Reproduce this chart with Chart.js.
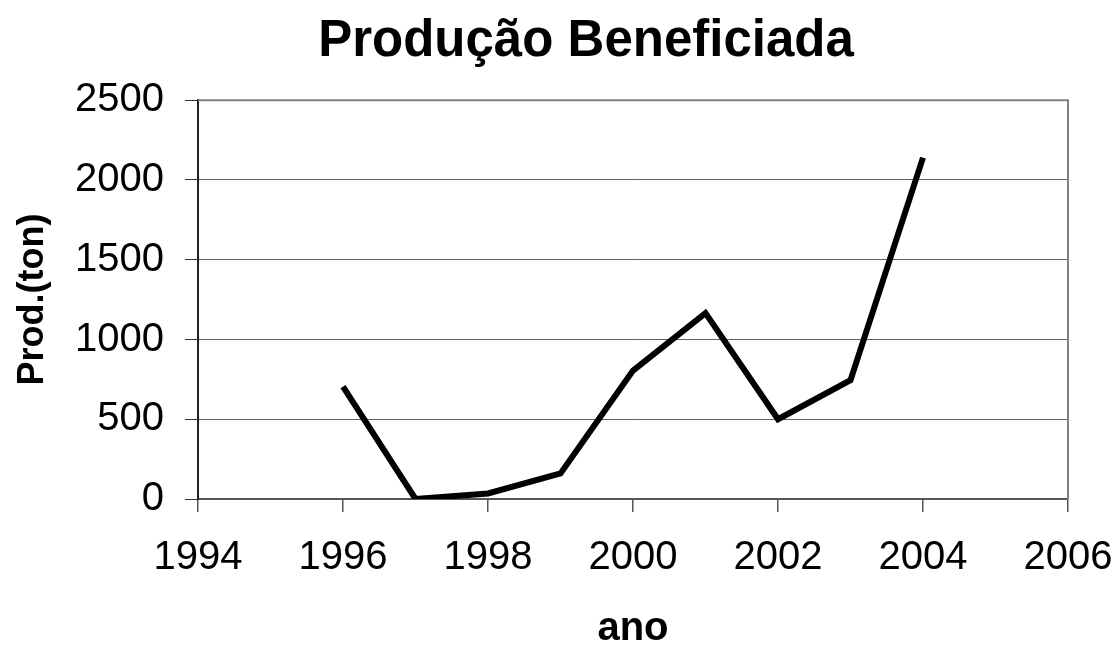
<!DOCTYPE html>
<html>
<head>
<meta charset="utf-8">
<script src="https://cdn.jsdelivr.net/npm/chart.js@4"></script>
<style>
  html, body { margin: 0; padding: 0; background: #fff; }
  #wrap { width: 1116px; height: 649px; }
</style>
</head>
<body>
<div id="wrap"><canvas id="prodChart" width="1116" height="649"></canvas></div>
<script>
// dados
const anos = [1996, 1997, 1998, 1999, 2000, 2001, 2002, 2003, 2004];
const producao = [705, 0, 35, 160, 805, 1165, 500, 745, 2140];
const xTicks = [1994, 1996, 1998, 2000, 2002, 2004, 2006];
const yTicks = [0, 500, 1000, 1500, 2000, 2500];

const titulo = 'Produção Beneficiada';
const tituloX = 'ano';
const tituloY = 'Prod.(ton)';

const fonte = "'Liberation Sans', Arial, sans-serif";

// moldura cinza no topo e à direita da área do gráfico
const moldura = {
    id: 'moldura',
    afterLayout(chart) {
        // o título original fica centrado um pouco à esquerda da área do gráfico
        if (chart.titleBlock) {
            chart.titleBlock.left = 104;
            chart.titleBlock.right = chart.chartArea.right;
        }
    },
    afterDraw(chart) {
        const { ctx, chartArea: a } = chart;
        ctx.save();
        ctx.strokeStyle = '#808080';
        ctx.lineWidth = 2;
        ctx.beginPath();
        ctx.moveTo(a.left, a.top);
        ctx.lineTo(a.right, a.top);
        ctx.lineTo(a.right, a.bottom);
        ctx.stroke();
        ctx.restore();
    }
};

const canvas = document.getElementById('prodChart');
new Chart(canvas.getContext('2d'), {
    type: 'line',
    data: {
        datasets: [{
            data: anos.map((a, i) => ({ x: a, y: producao[i] })),
            borderColor: '#000',
            borderWidth: 6,
            pointRadius: 0,
            tension: 0,
            fill: false
        }]
    },
    options: {
        responsive: false,
        animation: false,
        layout: { padding: { left: 0, right: 48, top: 0, bottom: 0 } },
        plugins: {
            legend: { display: false },
            tooltip: { enabled: false },
            title: {
                display: true,
                text: titulo,
                color: '#000',
                font: { family: fonte, size: 51, weight: 'bold' },
                padding: { top: 11, bottom: 28 }
            }
        },
        scales: {
            x: {
                type: 'linear',
                min: xTicks[0],
                max: xTicks[xTicks.length - 1],
                afterBuildTicks: s => { s.ticks = xTicks.map(v => ({ value: v })); },
                afterFit: s => { s.height = 150; s.paddingLeft = 0; s.paddingRight = 0; },
                ticks: {
                    color: '#000',
                    font: { family: fonte, size: 40 },
                    padding: 22,
                    maxRotation: 0,
                    callback: v => String(v)
                },
                grid: { drawOnChartArea: false, drawTicks: true, tickLength: 13, color: '#555', lineWidth: 1.5 },
                border: { color: '#555', width: 2 },
                title: {
                    display: true,
                    text: tituloX,
                    color: '#000',
                    font: { family: fonte, size: 40, weight: 'bold', lineHeight: 1 },
                    padding: { top: -6, bottom: 0 }
                }
            },
            y: {
                min: yTicks[0],
                max: yTicks[yTicks.length - 1],
                afterBuildTicks: s => { s.ticks = yTicks.map(v => ({ value: v })); },
                afterFit: s => { s.width = 198; },
                ticks: {
                    color: '#000',
                    font: { family: fonte, size: 40 },
                    padding: 21,
                    callback: v => String(v)
                },
                grid: { color: '#606060', lineWidth: 1, tickLength: 13, tickColor: '#333' },
                border: { color: '#222', width: 2 },
                title: {
                    display: true,
                    text: tituloY,
                    color: '#000',
                    font: { family: fonte, size: 36, weight: 'bold', lineHeight: 1.2 },
                    padding: { top: 11, bottom: 0 }
                }
            }
        }
    },
    plugins: [moldura]
});
</script>
</body>
</html>
